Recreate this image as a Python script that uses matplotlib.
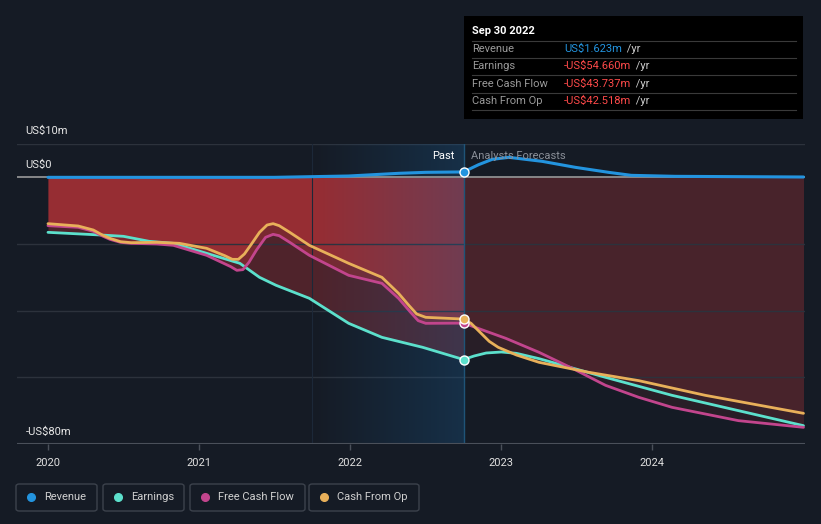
import numpy as np
import matplotlib.pyplot as plt
from matplotlib.patches import FancyBboxPatch, Rectangle
from matplotlib.lines import Line2D

plt.rcParams['font.family'] = ['Roboto', 'DejaVu Sans']

# data (US$m), x in decimal years
rev_x = [2020.0, 2021.5, 2021.99, 2022.32, 2022.5, 2022.75, 2022.85, 2022.94, 2023.05, 2023.27,
         2023.49, 2023.71, 2023.86, 2024.15, 2025.0]
rev_y = [0.0, 0.0, 0.4, 1.2, 1.5, 1.623, 3.8, 5.4, 6.0, 4.8, 3.0, 1.5, 0.6, 0.3, 0.1]

earn_x = [2020.0, 2020.39, 2020.5, 2020.67, 2020.83, 2021.05, 2021.27, 2021.4, 2021.51,
          2021.73, 2021.99, 2022.21, 2022.48, 2022.75, 2022.82, 2022.9, 2023.0, 2023.1,
          2023.25, 2023.69, 2024.13, 2024.57, 2025.0]
earn_y = [-16.5, -17.4, -17.7, -19.2, -19.8, -22.8, -25.8, -30.0, -32.4, -36.3, -43.8,
          -48.0, -51.0, -54.66, -53.6, -52.7, -52.4, -52.8, -54.4, -60.0, -65.4, -70.0, -74.5]

fcf_x = [2020.0, 2020.2, 2020.3, 2020.36, 2020.41, 2020.48, 2020.55, 2020.72, 2020.83,
         2021.05, 2021.21, 2021.25, 2021.29, 2021.33, 2021.38, 2021.44, 2021.49, 2021.53,
         2021.6, 2021.73, 2021.99, 2022.21, 2022.32, 2022.4, 2022.45, 2022.5, 2022.75,
         2023.03, 2023.25, 2023.47, 2023.69, 2023.91, 2024.13, 2024.57, 2025.0]
fcf_y = [-14.5, -15.0, -16.2, -17.6, -18.6, -19.5, -19.8, -20.0, -20.4, -23.4, -26.8,
         -27.9, -27.7, -25.5, -21.8, -18.0, -17.1, -17.5, -19.5, -23.4, -29.4, -31.8,
         -36.3, -40.5, -43.0, -43.8, -43.737, -48.3, -52.5, -57.3, -62.4, -66.0, -69.0,
         -73.0, -75.0]

cfo_x = [2020.0, 2020.2, 2020.3, 2020.36, 2020.41, 2020.48, 2020.55, 2020.72, 2020.87,
         2021.05, 2021.17, 2021.22, 2021.26, 2021.3, 2021.35, 2021.4, 2021.45, 2021.49,
         2021.53, 2021.6, 2021.73, 2021.99, 2022.21, 2022.32, 2022.39, 2022.44, 2022.5,
         2022.75, 2022.8, 2022.86, 2022.92, 2022.98, 2023.1, 2023.25, 2023.58, 2023.91,
         2024.35, 2025.0]
cfo_y = [-13.9, -14.6, -15.8, -17.3, -18.3, -19.3, -19.6, -19.5, -19.8, -21.3, -23.5,
         -24.6, -24.6, -23.0, -19.8, -16.5, -14.3, -13.9, -14.5, -16.5, -20.4, -25.8,
         -30.0, -34.8, -38.5, -41.0, -42.0, -42.518, -43.8, -46.5, -49.2, -51.0, -53.3,
         -55.5, -58.5, -61.0, -65.4, -70.8]

split = 2022.75
bg = '#151b25'
c_rev, c_earn, c_fcf, c_cfo = '#2394df', '#5ce0cc', '#c2458d', '#e8b05a'

fig = plt.figure(figsize=(8.21, 5.24), dpi=100, facecolor=bg)
ax = fig.add_axes([17 / 821, 80 / 524, 788 / 821, 300 / 524])
ax.set_facecolor(bg)
ax.set_xlim(2019.795, 2025.01)
ax.set_ylim(-80, 10)

# red loss fills, stronger in the past, weaker in the forecast
for xs, ys in [(earn_x, earn_y), (fcf_x, fcf_y), (cfo_x, cfo_y)]:
    xs = np.array(xs)
    ys = np.array(ys)
    ax.fill_between(xs, 0, ys, where=xs <= split, color='#e0393d', alpha=0.29, lw=0, zorder=1)
    ax.fill_between(xs, 0, ys, where=xs >= split, color='#c83a40', alpha=0.11, lw=0, zorder=1)

# highlight of the last year before the forecast
grad = np.zeros((2, 100, 4))
grad[..., 0] = 0.1
grad[..., 1] = 0.38
grad[..., 2] = 0.6
grad[..., 3] = np.linspace(0.0, 0.3, 100)
ax.imshow(grad, extent=[2021.75, split, -80, 10], aspect='auto', zorder=2, interpolation='bilinear')
ax.axvline(2021.75, color='#1c2838', lw=0.8, zorder=2)
ax.axvline(split, color='#1f5478', lw=1, zorder=2)

# grid
for v in [10, -20, -40, -60]:
    ax.axhline(v, color='#2c323c', lw=1, zorder=1.5)
ax.axhline(0, color='#9a9a9a', lw=1.2, zorder=2.5)
ax.axhline(-80, color='#4a505a', lw=1.5, zorder=2.5)

ax.plot(earn_x, earn_y, color=c_earn, lw=2, zorder=4, solid_capstyle='round', solid_joinstyle='round')
ax.plot(fcf_x, fcf_y, color=c_fcf, lw=2, zorder=4, solid_capstyle='round', solid_joinstyle='round')
ax.plot(cfo_x, cfo_y, color=c_cfo, lw=2, zorder=4, solid_capstyle='round', solid_joinstyle='round')
ax.plot(rev_x, rev_y, color=c_rev, lw=2.2, zorder=5, solid_capstyle='round', solid_joinstyle='round')

for v, c in [(fcf_y[fcf_x.index(split)], c_fcf), (cfo_y[cfo_x.index(split)], c_cfo),
             (earn_y[earn_x.index(split)], c_earn), (rev_y[rev_x.index(split)], c_rev)]:
    ax.plot([split], [v], 'o', ms=6.5, color=c, mec='white', mew=1, zorder=6)

for s in ax.spines.values():
    s.set_visible(False)
ax.set_yticks([])
ax.set_xticks([2020, 2021, 2022, 2023, 2024])
ax.set_xticklabels(['2020', '2021', '2022', '2023', '2024'])
ax.tick_params(axis='x', colors='#4a505a', length=4, width=1, labelcolor='#e0e0e0',
               labelsize=8, pad=6)

ax.text(2019.85, 13.8, 'US$10m', color='#e8e8e8', fontsize=8, va='center', clip_on=False)
ax.text(2019.85, 3.6, 'US$0', color='#e8e8e8', fontsize=8, va='center')
ax.text(2019.85, -76.5, '-US$80m', color='#e8e8e8', fontsize=8, va='center')
ax.text(2022.69, 6.3, 'Past', color='#ffffff', fontsize=8, va='center', ha='right', zorder=7)
ax.text(2022.8, 6.3, 'Analysts Forecasts', color='#8a8f98', fontsize=8, va='center', zorder=7)

# tooltip box
W, H = 821.0, 524.0
def fx(px):
    return px / W
def fy(py):
    return 1 - py / H

fig.patches.append(Rectangle((fx(464), fy(119)), 339 / W, 103 / H, transform=fig.transFigure,
                             facecolor='#000000', edgecolor='none', zorder=10))
fig.text(fx(472), fy(31), 'Sep 30 2022', color='white', fontsize=8, fontweight='bold',
         va='center', zorder=11)
for yy in [41, 58, 75, 93, 110]:
    fig.lines.append(Line2D([fx(472), fx(796)], [fy(yy), fy(yy)], transform=fig.transFigure,
                            color='#3a3a3a', lw=0.8, zorder=11))
rows = [('Revenue', 'US$1.623m', c_rev, 49), ('Earnings', '-US$54.660m', '#ff4a4a', 66),
        ('Free Cash Flow', '-US$43.737m', '#ff4a4a', 84), ('Cash From Op', '-US$42.518m', '#ff4a4a', 101)]
for lab, val, col, yy in rows:
    fig.text(fx(472), fy(yy), lab, color='#9a9a9a', fontsize=8, va='center', zorder=11)
    t = fig.text(fx(564), fy(yy), val, color=col, fontsize=8, va='center', zorder=11)
    fig.canvas.draw()
    bb = t.get_window_extent()
    fig.text(bb.x1 / W + 2 / W, fy(yy), ' /yr', color='#cccccc', fontsize=8, va='center', zorder=11)

# legend
legend = [('Revenue', c_rev, 16, 97), ('Earnings', c_earn, 103, 184),
          ('Free Cash Flow', c_fcf, 190, 305), ('Cash From Op', c_cfo, 309, 419)]
for lab, col, x0, x1 in legend:
    fig.patches.append(FancyBboxPatch((fx(x0), fy(511)), (x1 - x0) / W, 27 / H,
                                      boxstyle='round,pad=0,rounding_size=0.004',
                                      transform=fig.transFigure, facecolor='none',
                                      edgecolor='#3c424c', lw=1))
    fig.lines.append(Line2D([fx(x0 + 15)], [fy(497)], transform=fig.transFigure, marker='o',
                            ms=5.5, color=col, lw=0))
    fig.text(fx(x0 + 28), fy(497), lab, color='#d0d0d0', fontsize=8, va='center')

fig.savefig('out.png', dpi=100, facecolor=bg)
